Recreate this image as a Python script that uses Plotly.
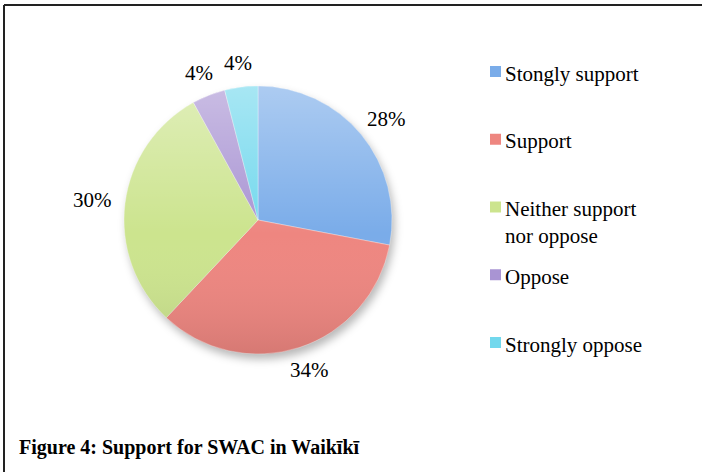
import base64
import math
import plotly.graph_objects as go

# Survey responses
labels = ["Stongly support", "Support", "Neither support<br>nor oppose", "Oppose", "Strongly oppose"]
values = [28, 34, 30, 4, 4]
colors = ["#7AACE9", "#EE8680", "#CCE48E", "#A994D3", "#72D8ED"]

title_text = "Figure 4: Support for SWAC in Waikīkī"

W, H = 702, 472
serif = "Liberation Serif, Times New Roman, serif"

# Pie geometry (pixels, measured from the top-left of the page)
cx, cy, R = 258, 220, 134
label_size = 21

fig = go.Figure()

fig.add_trace(go.Pie(
    labels=labels,
    values=values,
    sort=False,
    direction="clockwise",
    rotation=0,
    marker=dict(colors=colors, line=dict(color="rgba(255,255,255,0.55)", width=0.6)),
    textinfo="none",
    showlegend=False,
    hoverinfo="label+percent",
    domain=dict(x=[(cx - R) / W, (cx + R) / W], y=[(H - cy - R) / H, (H - cy + R) / H]),
))

shapes = []
annotations = []
images = []


def svg_uri(svg):
    return "data:image/svg+xml;base64," + base64.b64encode(svg.encode()).decode()


# Soft drop shadow beneath the pie
shadow_svg = (
    "<svg xmlns='http://www.w3.org/2000/svg' viewBox='0 0 120 120'>"
    "<defs><filter id='b' x='-20%' y='-20%' width='140%' height='140%'>"
    "<feGaussianBlur stdDeviation='1.6'/></filter></defs>"
    "<circle cx='61' cy='62' r='50' fill='rgba(0,0,0,0.28)' filter='url(#b)'/></svg>"
)
images.append(dict(source=svg_uri(shadow_svg), xref="paper", yref="paper",
                   x=(cx - 1.2 * R) / W, y=(H - cy + 1.2 * R) / H,
                   sizex=2.4 * R / W, sizey=2.4 * R / H,
                   sizing="stretch", xanchor="left", yanchor="top", layer="below"))

# Vertical shading: lighter at the top, deeper at the bottom
shade_svg = (
    "<svg xmlns='http://www.w3.org/2000/svg' viewBox='0 0 100 100'>"
    "<defs><linearGradient id='g' x1='0' y1='0' x2='0' y2='1'>"
    "<stop offset='0' stop-color='#fff' stop-opacity='0.38'/>"
    "<stop offset='0.55' stop-color='#fff' stop-opacity='0'/>"
    "<stop offset='1' stop-color='#000' stop-opacity='0.10'/>"
    "</linearGradient></defs>"
    "<circle cx='50' cy='50' r='50' fill='url(#g)'/></svg>"
)
images.append(dict(source=svg_uri(shade_svg), xref="paper", yref="paper",
                   x=(cx - R) / W, y=(H - cy + R) / H,
                   sizex=2 * R / W, sizey=2 * R / H,
                   sizing="stretch", xanchor="left", yanchor="top", layer="above"))

# Percentage labels outside each slice, placed along the slice's middle angle
total = sum(values)
cum = 0.0
for v in values:
    mid = 2 * math.pi * (cum + v / 2) / total
    cum += v
    txt = f"{v / total:.0%}"
    w = 0.6 * label_size * len(txt)
    h = 20
    s, c = math.sin(mid), math.cos(mid)
    px = cx + (R + 14 + w / 2) * s
    py = cy - (R + 14 + h / 2) * c
    annotations.append(dict(text=txt, xref="paper", yref="paper",
                            x=px / W, y=(H - py) / H,
                            xanchor="center", yanchor="middle", showarrow=False,
                            font=dict(family=serif, size=label_size, color="#000")))

# Legend: evenly spaced entries on the right
leg_top = 73
leg_step = 67.75
for i, (lab, col) in enumerate(zip(labels, colors)):
    yc = leg_top + i * leg_step
    shapes.append(dict(type="rect", xref="paper", yref="paper",
                       x0=490 / W, x1=501 / W,
                       y0=(H - yc - 4) / H, y1=(H - yc + 7) / H,
                       fillcolor=col, line=dict(width=0)))
    annotations.append(dict(text=lab, xref="paper", yref="paper",
                            x=503 / W, y=(H - yc + 13.5) / H,
                            xanchor="left", yanchor="top", align="left",
                            showarrow=False,
                            font=dict(family=serif, size=21, color="#000")))

# Figure caption
annotations.append(dict(text="<b>" + title_text + "</b>", xref="paper", yref="paper",
                        x=17 / W, y=(H - 447) / H, xanchor="left", yanchor="middle",
                        showarrow=False,
                        font=dict(family=serif, size=20, color="#000")))

# Frame lines along top and left edges
shapes.append(dict(type="line", xref="paper", yref="paper",
                   x0=4 / W, x1=1, y0=(H - 5) / H, y1=(H - 5) / H,
                   line=dict(color="#222", width=2)))
shapes.append(dict(type="line", xref="paper", yref="paper",
                   x0=4 / W, x1=4 / W, y0=0, y1=(H - 5) / H,
                   line=dict(color="#222", width=2)))

fig.update_layout(
    width=W, height=H,
    margin=dict(l=0, r=0, t=0, b=0),
    paper_bgcolor="white",
    plot_bgcolor="white",
    shapes=shapes,
    annotations=annotations,
    images=images,
)

fig.write_html("out.html")
